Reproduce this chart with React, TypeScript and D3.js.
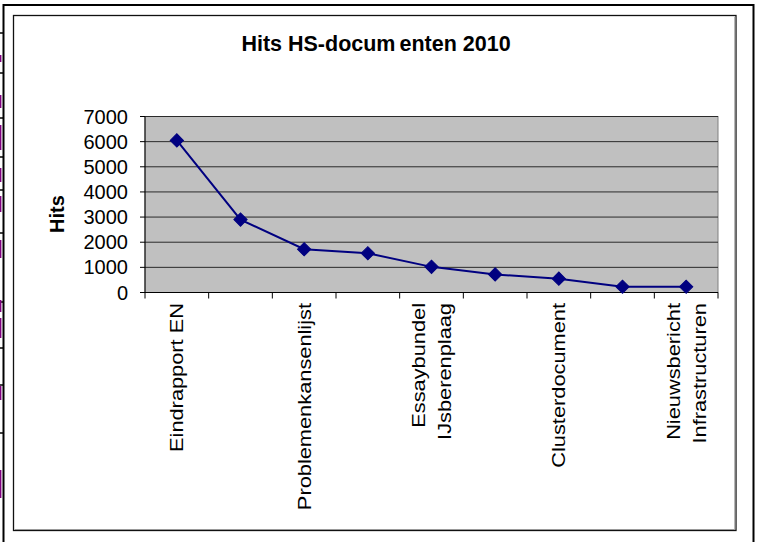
import React from "react";
import * as d3 from "d3";

// ---- data ----
const titleParts = ["Hits HS-docum", "enten 2010"];
const yAxisTitle = "Hits";
const categoryLabels: string[][] = [
  ["Eindrapport EN"],
  [],
  ["Problemenkansenlijst"],
  [],
  ["Essaybundel", "IJsberenplaag"],
  [],
  ["Clusterdocument"],
  [],
  ["Nieuwsbericht", "Infrastructuren"],
];
const hits = [6050, 2900, 1720, 1560, 1020, 720, 550, 230, 230];
const yTicks = [0, 1000, 2000, 3000, 4000, 5000, 6000, 7000];

// decorative page fragments on the far left edge
const edgeTicks = [33, 73, 118, 157, 190, 233, 302, 348, 385, 433];
const edgePurple: [number, number][] = [
  [55, 62], [95, 108], [125, 150], [168, 182], [196, 212], [240, 258],
  [300, 312], [318, 338], [386, 400], [470, 498],
];

const W = 761;
const H = 542;
const FONT = "'Liberation Sans', Arial, sans-serif";

export default function App() {
  const idx = hits.map((_, i) => String(i));
  const x = d3.scaleBand<string>().domain(idx).range([145, 718]).padding(0);
  const y = d3.scaleLinear().domain([0, 7000]).range([292.5, 116.5]);
  const [x0, x1] = x.range();
  const [yb, yt] = y.range();

  const line = d3
    .line<number>()
    .x((_, i) => (x(String(i)) as number) + x.bandwidth() / 2)
    .y((d) => y(d));

  const marker = d3.symbol(d3.symbolSquare, 88)();

  const catFs = 21.8;
  const sy = 0.84;
  const lineGap = 26;

  return (
    <svg
      width={W}
      height={H}
      style={{ position: "absolute", left: 0, top: 0, background: "#fff" }}
      fontFamily={FONT}
    >
      <rect x={0} y={0} width={W} height={H} fill="#fff" />
      {/* left edge fragments */}
      {edgeTicks.map((t, i) => (
        <line key={"et" + i} x1={0} x2={3} y1={t} y2={t} stroke="#000" strokeWidth={1.5} />
      ))}
      {edgePurple.map(([a, b], i) => (
        <rect key={"ep" + i} x={0} y={a} width={1.4} height={b - a} fill="#800080" />
      ))}
      {/* outer frame */}
      <path d={`M3.5,${H} V5 H753.5 V${H}`} fill="none" stroke="#000" strokeWidth={2} />
      {/* chart area frame */}
      <rect x={13.5} y={15.5} width={722.5} height={515} fill="#fff" stroke="#111" strokeWidth={1.3} />
      <path d={`M14.8,529.5 H734.8 V16.8`} fill="none" stroke="#999" strokeWidth={1} />

      {/* title */}
      <text x={376} y={51} textAnchor="middle" fontSize={21.5} fontWeight="bold" fill="#000">
        <tspan>{titleParts[0]}</tspan>
        <tspan dx={4}>{titleParts[1]}</tspan>
      </text>

      {/* plot area */}
      <rect x={x0} y={yt} width={x1 - x0} height={yb - yt} fill="#c0c0c0" stroke="#808080" strokeWidth={1} />
      {yTicks.filter((t) => t > 0).map((t) => (
        <line key={"g" + t} x1={x0} x2={x1} y1={y(t)} y2={y(t)} stroke="#2a2a2a" strokeWidth={1} />
      ))}

      {/* axes */}
      <line x1={x0} x2={x0} y1={yt} y2={yb} stroke="#000" strokeWidth={1} />
      <line x1={x0} x2={x1} y1={yb} y2={yb} stroke="#000" strokeWidth={1} />
      {yTicks.map((t) => (
        <g key={"yt" + t}>
          <line x1={x0 - 5} x2={x0} y1={y(t)} y2={y(t)} stroke="#000" strokeWidth={1} />
          <text x={128} y={y(t)} dy="0.35em" textAnchor="end" fontSize={20} fill="#000">
            {t}
          </text>
        </g>
      ))}
      {d3.range(idx.length + 1).map((k) => {
        const xx = x0 + k * x.bandwidth();
        return <line key={"xt" + k} x1={xx} x2={xx} y1={yb} y2={yb + 6} stroke="#000" strokeWidth={1} />;
      })}

      {/* y axis title */}
      <text
        transform={`translate(64,214) rotate(-90)`}
        textAnchor="middle"
        fontSize={20}
        fontWeight="bold"
        fill="#000"
      >
        {yAxisTitle}
      </text>

      {/* category labels */}
      {categoryLabels.map((lines, i) => {
        if (!lines.length) return null;
        const cx = (x(String(i)) as number) + x.bandwidth() / 2;
        return (
          <text
            key={"cl" + i}
            transform={`translate(${cx},303) rotate(-90) scale(1,${sy})`}
            textAnchor="end"
            fontSize={catFs}
            fill="#000"
          >
            {lines.map((s, j) => (
              <tspan key={j} x={0} y={((j - (lines.length - 1) / 2) * lineGap) / sy + 0.36 * catFs}>
                {s}
              </tspan>
            ))}
          </text>
        );
      })}

      {/* series */}
      <path d={line(hits) || ""} fill="none" stroke="#000080" strokeWidth={2} />
      {hits.map((v, i) => (
        <path
          key={"m" + i}
          d={marker || ""}
          transform={`translate(${(x(String(i)) as number) + x.bandwidth() / 2},${y(v)}) rotate(45)`}
          fill="#000080"
          stroke="#000080"
          strokeWidth={1}
        />
      ))}
    </svg>
  );
}
